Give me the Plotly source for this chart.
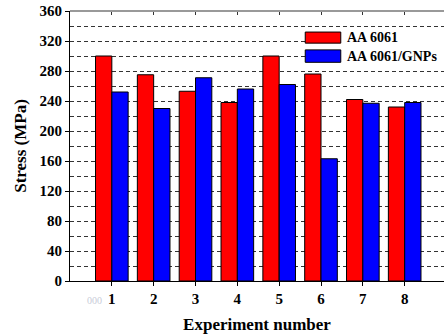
import plotly.graph_objects as go

experiments = [1, 2, 3, 4, 5, 6, 7, 8]
aa6061 = [300, 275, 253, 238, 300, 276, 242, 232]
aa6061_gnps = [252, 230, 271, 256, 262, 163, 237, 238]
series_names = ["AA 6061", "AA 6061/GNPs"]
series_colors = ["#ff0000", "#0000ff"]
y_ticks = [0, 40, 80, 120, 160, 200, 240, 280, 320, 360]

FONT = "Liberation Serif, Times New Roman, serif"
GRID = "#333333"

fig = go.Figure()
for name, vals, col in zip(series_names, [aa6061, aa6061_gnps], series_colors):
    fig.add_trace(go.Bar(
        x=experiments, y=vals, name=name,
        marker=dict(color=col, line=dict(color="black", width=1)),
        showlegend=False,
    ))

fig.update_layout(
    width=444, height=334,
    margin=dict(l=70, r=0, t=11, b=53, autoexpand=False),
    paper_bgcolor="white", plot_bgcolor="white",
    barmode="group", bargap=0.22, bargroupgap=0,
    font=dict(family=FONT, color="black"),
    xaxis=dict(
        range=[0, 8.94], tickvals=experiments, ticktext=[str(e) for e in experiments],
        ticks="outside", ticklen=4, tickcolor="black",
        showline=True, linecolor="black", linewidth=1,
        showgrid=False, zeroline=False,
        tickfont=dict(family=FONT, size=15, weight="bold"),
        title=dict(text="Experiment number", font=dict(family=FONT, size=17, weight="bold"), standoff=14),
    ),
    xaxis2=dict(
        overlaying="x", side="top", range=[0, 8.94], tickvals=experiments,
        ticks="inside", ticklen=4, tickcolor="#333333", showticklabels=False,
        showline=False, showgrid=False, zeroline=False,
    ),
    yaxis=dict(
        range=[0, 360], tickvals=y_ticks,
        ticks="outside", ticklen=4, tickcolor="black",
        showline=True, linecolor="black", linewidth=1,
        showgrid=True, gridcolor=GRID, gridwidth=1, griddash="4px,3px",
        minor=dict(dtick=20, tick0=0, showgrid=True, gridcolor=GRID, gridwidth=1, griddash="4px,3px", ticks=""),
        zeroline=False,
        tickfont=dict(family=FONT, size=15, weight="bold"),
        title=dict(text="Stress (MPa)", font=dict(family=FONT, size=17, weight="bold"), standoff=8),
    ),
)

# dummy invisible trace on xaxis2 so the top axis ticks are drawn
fig.add_trace(go.Scatter(x=[None], y=[None], xaxis="x2", showlegend=False, hoverinfo="skip"))

# top frame line (gray, like the original)
fig.add_shape(type="line", xref="paper", yref="paper", x0=0, x1=1, y0=1, y1=1,
              line=dict(color="#999999", width=2), layer="above")

# manual legend (wide swatches like the original)
legend_rows = [(0.922, 0.881), (0.856, 0.810)]
for (y1, y0), name, col in zip(legend_rows, series_names, series_colors):
    fig.add_shape(type="rect", xref="paper", yref="paper",
                  x0=0.629, x1=1.0, y0=y0 - 0.015, y1=y1 + 0.015,
                  fillcolor="white", line=dict(width=0), layer="above")
    fig.add_shape(type="rect", xref="paper", yref="paper",
                  x0=0.629, x1=0.724, y0=y0, y1=y1,
                  fillcolor=col, line=dict(color="black", width=1), layer="above")
    fig.add_annotation(xref="paper", yref="paper", x=0.734, y=(y0 + y1) / 2,
                       text=name, showarrow=False, xanchor="left", yanchor="middle",
                       font=dict(family=FONT, size=14, weight="bold", color="black"))

fig.add_annotation(xref="x", yref="paper", x=0.58, y=-0.045, text="000", showarrow=False,
                   font=dict(family=FONT, size=10, color="#c8ccd8"), yanchor="top")

fig.write_html("out.html", config={"displayModeBar": False},
               post_script="document.body.style.margin='0';document.body.style.overflow='hidden';")
